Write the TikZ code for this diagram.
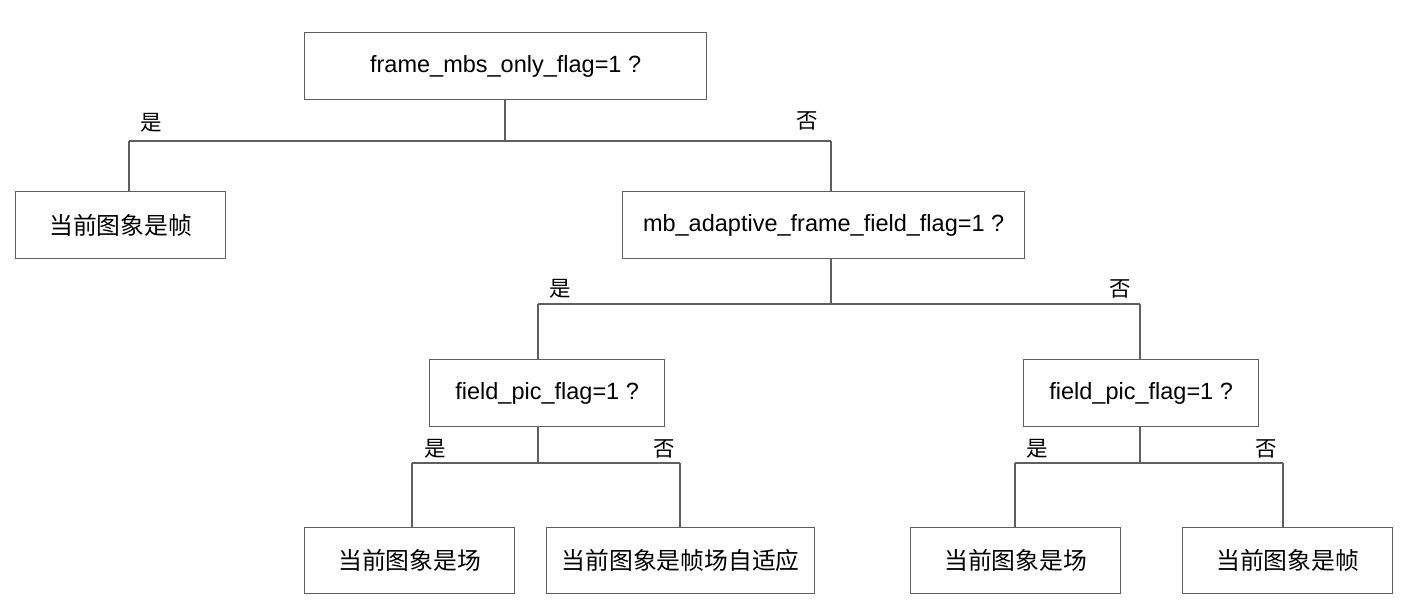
\documentclass[tikz,border=0pt]{standalone}
\usepackage{fontspec}
\setmainfont{Liberation Sans}
\newfontfamily\cjk{Noto Sans CJK SC}
\definecolor{linegray}{RGB}{95,95,95}
\begin{document}
\begin{tikzpicture}[x=1pt,y=-1pt,
  box/.style={draw=linegray,line width=1.3pt,rectangle,inner sep=0pt,anchor=north west,align=center,font=\fontsize{23.5}{27}\selectfont},
  cbox/.style={box,font=\cjk\fontsize{23.8}{27}\selectfont},
  conn/.style={draw=linegray,line width=1.3pt},
  yn/.style={font=\cjk\fontsize{21.5}{24}\selectfont,inner sep=0pt}]
\useasboundingbox[fill=white] (0,0) rectangle (1401,602);
% boxes
\node[box,minimum width=402pt,minimum height=67pt] (b1) at (304,32) {frame\_mbs\_only\_flag=1 ?};
\node[cbox,minimum width=210pt,minimum height=67pt] (b2) at (15,191) {当前图象是帧};
\node[box,minimum width=402pt,minimum height=67pt] (b3) at (622,191) {mb\_adaptive\_frame\_field\_flag=1 ?};
\node[box,minimum width=235pt,minimum height=67pt] (f1) at (429,359) {field\_pic\_flag=1 ?};
\node[box,minimum width=235pt,minimum height=67pt] (f2) at (1023,359) {field\_pic\_flag=1 ?};
\node[cbox,minimum width=210pt,minimum height=66pt] (c1) at (304,527) {当前图象是场};
\node[cbox,minimum width=268pt,minimum height=66pt] (c2) at (546,527) {当前图象是帧场自适应};
\node[cbox,minimum width=210pt,minimum height=66pt] (c3) at (910,527) {当前图象是场};
\node[cbox,minimum width=210pt,minimum height=66pt] (c4) at (1182,527) {当前图象是帧};
% junctions
\coordinate (j1) at (505,141);
\coordinate (l1) at (129,141);
\coordinate (r1) at (831,141);
\coordinate (j2) at (831,304);
\coordinate (l2) at (538,304);
\coordinate (r2) at (1140,304);
\coordinate (j3) at (538,463);
\coordinate (l3) at (412,463);
\coordinate (r3) at (680,463);
\coordinate (j4) at (1140,463);
\coordinate (l4) at (1015,463);
\coordinate (r4) at (1283,463);
% connectors
\draw[conn] (b1.south -| j1) -- (j1);
\draw[conn] (l1) -- (r1);
\draw[conn] (l1) -- (l1 |- b2.north);
\draw[conn] (r1) -- (r1 |- b3.north);
\draw[conn] (b3.south -| j2) -- (j2);
\draw[conn] (l2) -- (r2);
\draw[conn] (l2) -- (l2 |- f1.north);
\draw[conn] (r2) -- (r2 |- f2.north);
\draw[conn] (f1.south -| j3) -- (j3);
\draw[conn] (l3) -- (r3);
\draw[conn] (l3) -- (l3 |- c1.north);
\draw[conn] (r3) -- (r3 |- c2.north);
\draw[conn] (f2.south -| j4) -- (j4);
\draw[conn] (l4) -- (r4);
\draw[conn] (l4) -- (l4 |- c3.north);
\draw[conn] (r4) -- (r4 |- c4.north);
% labels
\node[yn] (y1) at (151,123) {是};
\node[yn] (n1) at (807,121) {否};
\node[yn] (y2) at (560,289) {是};
\node[yn] (n2) at (1120,289) {否};
\node[yn] (y3) at (435,449) {是};
\node[yn] (n3) at (664,449) {否};
\node[yn] (y4) at (1037,449) {是};
\node[yn] (n4) at (1266,449) {否};
\end{tikzpicture}
\end{document}
